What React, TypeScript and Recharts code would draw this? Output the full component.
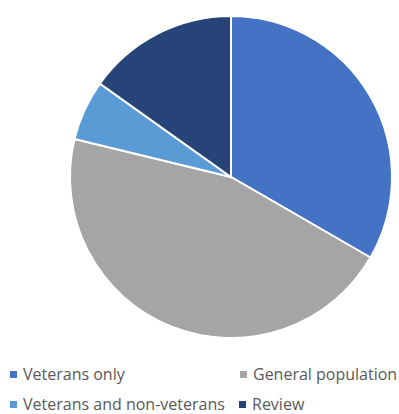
import React from "react";
import { PieChart, Pie, Cell, Legend } from "recharts";

const categories = ["Veterans only", "General population", "Veterans and non-veterans", "Review"];
const values = [22, 30, 4, 10];
const colors = ["#4472C4", "#A5A5A5", "#5B9BD5", "#264478"];

const data = categories.map((name, i) => ({ name, value: values[i] }));

const legendPos = [
  { left: 10, top: 2 },
  { left: 240, top: 2 },
  { left: 10, top: 32 },
  { left: 239, top: 32 },
];

const renderLegend = () => (
  <div style={{ position: "relative", width: 399, height: 48 }}>
    {data.map((d, i) => (
      <div
        key={d.name}
        style={{
          position: "absolute",
          left: legendPos[i].left,
          top: legendPos[i].top,
          display: "flex",
          alignItems: "center",
          whiteSpace: "nowrap",
          fontFamily: "'Open Sans', sans-serif",
          fontSize: 16,
          color: "#595959",
          lineHeight: "16px",
          height: 16,
        }}
      >
        <span style={{ display: "inline-block", width: 7, height: 7, background: colors[i], marginRight: 6 }} />
        <span>{d.name}</span>
      </div>
    ))}
  </div>
);

export default function App() {
  return (
    <div style={{ position: "absolute", left: 0, top: 0, width: 399, height: 414, background: "#fff" }}>
      <PieChart width={399} height={414} margin={{ top: 0, right: 0, bottom: 0, left: 0 }}>
        <Pie
          data={data}
          dataKey="value"
          nameKey="name"
          cx={231}
          cy={177}
          outerRadius={161}
          startAngle={90}
          endAngle={-270}
          stroke="#ffffff"
          strokeWidth={2}
          isAnimationActive={false}
        >
          {data.map((d, i) => (
            <Cell key={d.name} fill={colors[i]} />
          ))}
        </Pie>
        <Legend
          content={renderLegend}
          wrapperStyle={{ position: "absolute", left: 0, top: 364, width: 399 }}
        />
      </PieChart>
    </div>
  );
}
